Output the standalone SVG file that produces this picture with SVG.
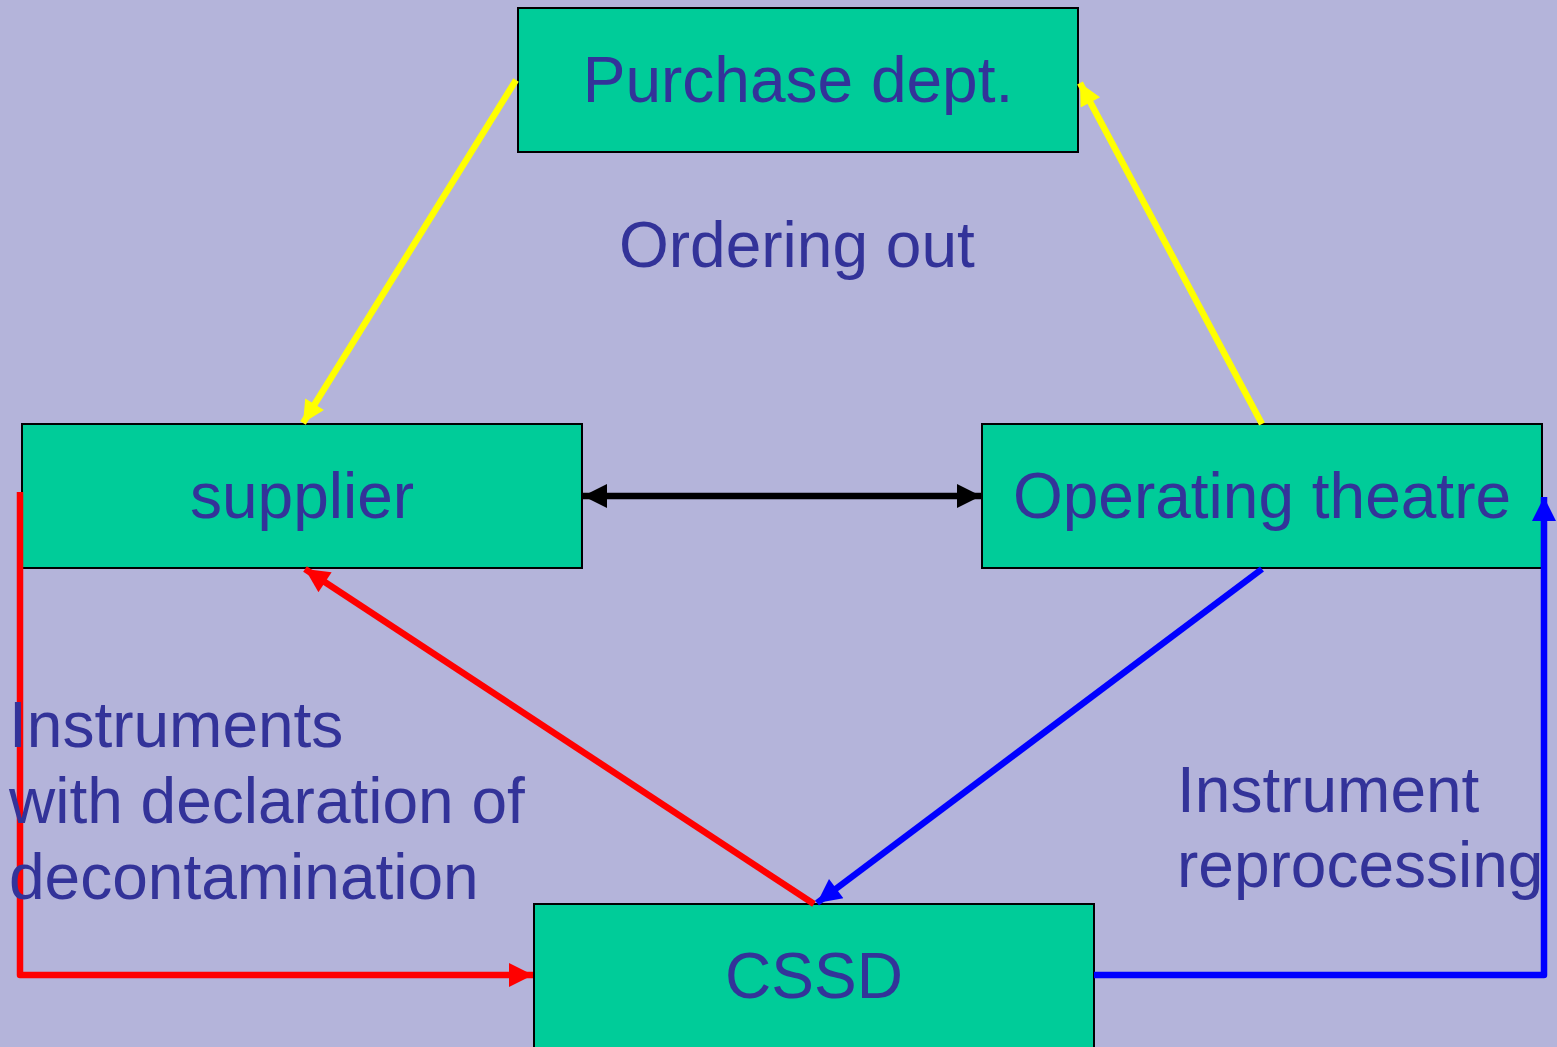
<svg xmlns="http://www.w3.org/2000/svg" width="1557" height="1047" viewBox="0 0 1557 1047">
<style>
.box{fill:#00CC99;stroke:#000;stroke-width:2}
.lbl{font-family:"Liberation Sans",Arial,sans-serif;font-size:64px;fill:#333399}
.c{text-anchor:middle}
.ln{fill:none;stroke-linejoin:round;stroke-width:6.5}
</style>
<defs>
<marker id="ay" viewBox="0 0 10 10" refX="10" refY="5" markerUnits="userSpaceOnUse" markerWidth="26" markerHeight="22" orient="auto"><path d="M0,0 L10,5 L0,10 z" fill="#FFFF00"/></marker>
<marker id="ak" viewBox="0 0 10 10" refX="10" refY="5" markerUnits="userSpaceOnUse" markerWidth="24" markerHeight="24" orient="auto-start-reverse"><path d="M0,0 L10,5 L0,10 z" fill="#000"/></marker>
<marker id="ar" viewBox="0 0 10 10" refX="10" refY="5" markerUnits="userSpaceOnUse" markerWidth="26" markerHeight="24" orient="auto"><path d="M0,0 L10,5 L0,10 z" fill="#FF0000"/></marker>
<marker id="ab" viewBox="0 0 10 10" refX="10" refY="5" markerUnits="userSpaceOnUse" markerWidth="26" markerHeight="24" orient="auto"><path d="M0,0 L10,5 L0,10 z" fill="#0000FF"/></marker>
</defs>
<rect width="1557" height="1047" fill="#B4B4DA"/>
<g id="purchase"><rect class="box" x="518" y="8" width="560" height="144"/><text class="lbl c" x="798" y="102">Purchase dept.</text></g>
<g id="supplier"><rect class="box" x="22" y="424" width="560" height="144"/><text class="lbl c" x="302" y="518">supplier</text></g>
<g id="theatre"><rect class="box" x="982" y="424" width="560" height="144"/><text class="lbl c" x="1262" y="518">Operating theatre</text></g>
<g id="cssd"><rect class="box" x="534" y="904" width="560" height="160"/><text class="lbl c" x="814" y="998">CSSD</text></g>
<g id="connectors">
<line class="ln" x1="516" y1="80" x2="303" y2="423" stroke="#FFFF00" marker-end="url(#ay)"/>
<line class="ln" x1="1262" y1="424" x2="1080" y2="83" stroke="#FFFF00" marker-end="url(#ay)"/>
<line class="ln" x1="583" y1="496" x2="981" y2="496" stroke="#000" marker-start="url(#ak)" marker-end="url(#ak)"/>
<line class="ln" x1="814" y1="904" x2="305" y2="569" stroke="#FF0000" marker-end="url(#ar)"/>
<polyline class="ln" points="20,492 20,975 533,975" stroke="#FF0000" marker-end="url(#ar)"/>
<line class="ln" x1="1262" y1="569" x2="817" y2="903" stroke="#0000FF" marker-end="url(#ab)"/>
<polyline class="ln" points="1094,975 1544,975 1544,497" stroke="#0000FF" marker-end="url(#ab)"/>
</g>
<g id="labels">
<text class="lbl" x="619" y="267">Ordering out</text>
<text class="lbl" x="9" y="747">Instruments</text>
<text class="lbl" x="9" y="823">with declaration of</text>
<text class="lbl" x="9" y="899">decontamination</text>
<text class="lbl" x="1177" y="812">Instrument</text>
<text class="lbl" x="1177" y="887">reprocessing</text>
</g>
</svg>
